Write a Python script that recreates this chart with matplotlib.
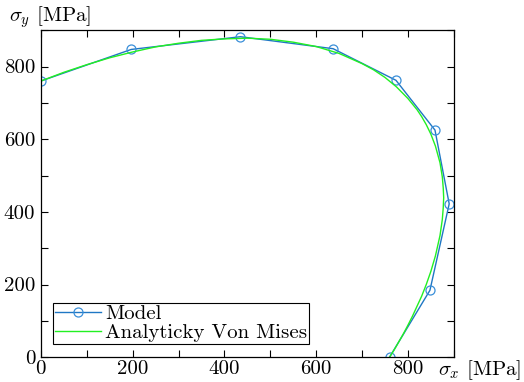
"""Von Mises yield surface vs model points"""
import matplotlib
matplotlib.use('Agg')
import matplotlib.pyplot as plt

plt.rcParams['font.family'] = ['cmr10', 'DejaVu Serif']
plt.rcParams['mathtext.fontset'] = 'cm'
plt.rcParams['axes.unicode_minus'] = False
plt.rcParams['axes.formatter.use_mathtext'] = True

# Model points
model_sx = [0, 197, 435, 637, 774, 859, 890, 848, 760]
model_sy = [760, 847, 882, 849, 762, 625, 422, 184, 0]

# Analytic von Mises curve
vm_sx = [0, 50, 100, 150, 200, 250, 300, 350, 400, 450, 500, 550, 600, 650,
         700, 725, 750, 775, 800, 820, 830, 840, 850, 860, 870, 875, 877, 878,
         877, 875, 870, 860, 850, 840, 830, 810, 800, 790, 780, 770, 760]
vm_sy = [760, 784, 805, 824, 840, 854, 864, 872, 876, 878, 875, 867, 855, 836,
         808, 791, 770, 744, 712, 681, 662, 640, 614, 581, 535, 496, 466, 439,
         411, 379, 335, 279, 236, 200, 168, 113, 88, 64, 42, 20, 0]

fig = plt.figure(figsize=(5.24, 3.82), dpi=100)
ax = fig.add_axes([0.078, 0.065, 0.788, 0.856])

ax.plot(model_sx, model_sy, color='#1f77c4', lw=1.0, marker='o', markersize=6.5,
        markerfacecolor='none', markeredgecolor='#3a8fd9', markeredgewidth=0.9,
        label='Model')
ax.plot(vm_sx, vm_sy, color='#22f022', lw=1.0, label='Analyticky Von Mises')

ax.set_xlim(0, 900)
ax.set_ylim(0, 900)
ax.set_xticks(range(0, 901, 100))
ax.set_yticks(range(0, 901, 100))
ax.set_xticklabels([str(v) if v % 200 == 0 else '' for v in range(0, 901, 100)])
ax.set_yticklabels([str(v) if v % 200 == 0 else '' for v in range(0, 901, 100)])
ax.tick_params(direction='in', top=True, right=True, labelsize=15, length=5)
ax.tick_params(axis='x', pad=2)
ax.tick_params(axis='y', pad=4)
for s in ax.spines.values():
    s.set_linewidth(0.9)

fig.text(0.018, 0.955, r'$\sigma_y$ [MPa]', fontsize=15, va='center')
fig.text(0.835, 0.03, r'$\sigma_x$ [MPa]', fontsize=15, va='center')

leg = ax.legend(loc='lower left', bbox_to_anchor=(0.029, 0.04), fontsize=15,
                fancybox=False, edgecolor='black', framealpha=1,
                handlelength=2.2, handletextpad=0.2, borderpad=0.1,
                labelspacing=0.0, borderaxespad=0)
leg.get_frame().set_linewidth(0.8)

plt.savefig('out.png', dpi=100)
